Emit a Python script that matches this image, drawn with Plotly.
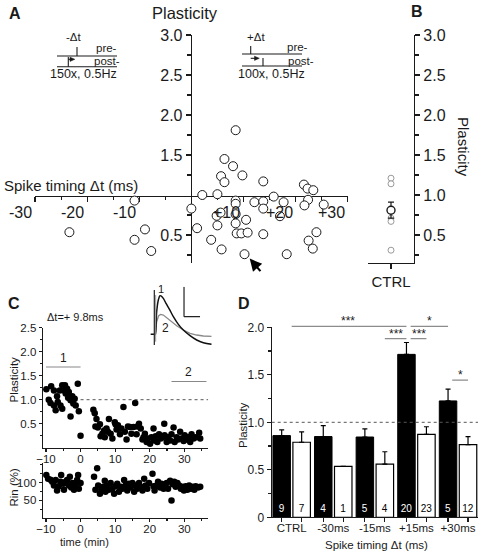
import plotly.graph_objects as go

W, H = 490, 554
FONT = "Liberation Sans, Arial, sans-serif"
INK = "#1a1a1a"


def PX(x):
    return x / W


def PY(y):
    return 1 - y / H


# ---------------- Panel A: plasticity vs spike timing ----------------
a_dt = [-23.4, -10.9, -10.9, -8.9, -7.7, 0.0, 1.1, 2.1, 3.8, 5.0, 4.85, 5.6, 5.0,
        6.35, 5.7, 6.35, 8.0, 8.5, 9.8, 8.5, 8.5, 8.5, 8.5, 10.5, 8.7, 9.6, 10.8,
        5.8, 10.2, 12.1, 13.8, 13.8, 13.8, 13.8, 15.8, 17.7, 17.0, 18.3, 21.6,
        22.3, 23.4, 22.4, 21.7, 25.4, 24.0, 22.5, 23.3]
a_plast = [0.535, 0.93, 0.44, 0.57, 0.30, 0.83, 0.585, 1.0, 0.44, 1.01, 0.74, 0.78, 0.62,
           1.45, 1.235, 1.16, 1.36, 1.81, 1.245, 0.93, 0.89, 0.76, 0.645, 0.69, 0.52, 0.52, 0.53,
           0.32, 0.26, 0.91, 1.17, 0.92, 0.83, 0.51, 0.98, 0.91, 0.735, 0.26, 1.13,
           1.08, 1.06, 0.94, 0.87, 0.88, 0.535, 0.43, 0.33]
a_xtick_vals = [-30, -20, -10, 10, 20, 30]
a_xtick_text = ["-30", "-20", "-10", "+10", "+20", "+30"]

# ---------------- Panel B: control ----------------
b_ctrl = [1.21, 1.14, 0.71, 0.67, 0.31]
b_mean = [0.81]
b_sem = [0.10]

# ---------------- Panel C: example experiment ----------------
c_t = [-9.9, -9.2, -8.5, -8.7, -7.7, -7.7, -7.2, -6.8, -6.6, -6.0, -5.8, -5.3, -5.3, -4.8,
       -4.5, -4.3, -3.9, -3.6, -3.4, -2.9, -2.9, -2.4, -2.1, -1.7, -1.4, -0.8, -0.5, 0.0,
       3.7, 4.1, 4.6, 4.3, 5.0, 5.6, 5.8, 6.3, 6.8, 7.0, 7.5, 8.2, 7.9, 8.7, 9.2, 9.9,
       10.1, 10.4, 10.8, 11.4, 11.8, 12.4, 12.8, 13.3, 13.7, 14.3, 14.7, 15.3, 15.8, 16.2,
       16.4, 16.9, 17.4, 17.9, 18.2, 18.6, 19.1, 19.5, 20.1, 20.5, 21.1, 21.3, 21.7, 22.2,
       22.7, 23.2, 23.7, 24.2, 24.3, 24.9, 25.3, 25.9, 26.3, 26.9, 27.2, 27.8, 28.2, 28.8,
       29.2, 29.8, 30.1, 30.7, 31.1, 31.7, 32.1, 32.7, 33.3, 34.3, 34.6]
c_plast = [1.22, 1.0, 1.28, 0.93, 1.19, 0.88, 0.78, 1.07, 0.95, 1.19, 0.88, 1.30, 0.81, 1.19,
           1.30, 1.13, 1.23, 1.04, 1.16, 0.65, 0.99, 1.07, 0.92, 1.02, 0.88, 1.33, 0.76, 0.25,
           0.79, 0.72, 0.60, 0.44, 0.42, 0.49, 0.24, 0.29, 0.36, 0.22, 0.40, 0.60, 0.33, 0.29,
           0.19, 0.53, 0.49, 0.38, 0.47, 0.28, 0.40, 0.85, 0.33, 0.17, 0.44, 0.43, 0.29, 0.43,
           0.93, 0.28, 0.44, 0.50, 0.40, 0.17, 0.22, 0.29, 0.12, 0.19, 0.08, 0.22, 0.40, 0.15,
           0.24, 0.12, 0.28, 0.19, 0.22, 0.50, 0.26, 0.12, 0.22, 0.15, 0.28, 0.42, 0.12, 0.22,
           0.17, 0.33, 0.19, 0.14, 0.26, 0.17, 0.22, 0.12, 0.28, 0.19, 0.22, 0.31, 0.19]
c_rin_t = [-9.9, -9.4, -8.7, -8.2, -7.7, -7.2, -6.8, -6.3, -5.8, -5.6, -5.0, -4.8, -4.3, -3.9,
           -3.4, -3.1, -2.7, -2.4, -1.9, -1.4, -1.0, -0.7, -0.5, 0.0, 3.9, 4.3, 4.8, 5.1, 5.6,
           6.0, 6.6, 7.0, 7.2, 7.7, 8.2, 8.7, 9.2, 9.7, 10.1, 10.6, 11.1, 11.6, 12.1, 12.6,
           13.0, 13.5, 14.0, 14.5, 15.0, 15.5, 15.9, 16.4, 16.9, 17.4, 17.9, 18.4, 18.8, 19.3,
           19.8, 20.8, 21.1, 21.4, 22.0, 22.4, 23.0, 23.4, 24.0, 24.3, 24.9, 25.3, 25.9, 26.3,
           26.6, 27.1, 27.5, 28.0, 28.5, 29.0, 29.5, 29.9, 30.4, 30.9, 31.4, 31.9, 32.4, 32.9,
           33.3, 34.0, 34.6]
c_rin = [121, 111, 108, 102, 92, 107, 78, 90, 102, 121, 97, 80, 102, 107,
         92, 116, 86, 99, 80, 95, 107, 121, 83, 99, 116, 80, 140, 92, 69,
         80, 88, 105, 74, 92, 80, 99, 83, 69, 90, 97, 74, 88, 83, 107,
         92, 78, 97, 86, 99, 74, 92, 83, 99, 88, 78, 111, 92, 83,
         99, 125, 90, 78, 92, 102, 86, 97, 83, 92, 99, 83, 105, 50,
         95, 102, 88, 99, 92, 83, 88, 78, 90, 80, 92, 83, 88, 80,
         90, 86, 88]

# EPSP example traces (inset, arbitrary units)
epsp1_x = [32, 44, 46, 50, 55, 60, 64, 70, 78, 88, 100, 115, 130, 150, 170, 190, 215]
epsp1_y = [-178, -178, -178, -110, -75, -62, -63, -70, -85, -102, -125, -148, -165, -182, -195, -203, -208]
epsp2_x = [46, 50, 56, 62, 70, 80, 95, 110, 130, 150, 170, 190, 215]
epsp2_y = [-178, -140, -122, -118, -120, -128, -140, -152, -165, -175, -180, -183, -184]

# ---------------- Panel D: summary bars ----------------
d_cats = ["CTRL", "-30ms", "-15ms", "+15ms", "+30ms"]
d_black = [0.86, 0.85, 0.845, 1.715, 1.225]
d_black_err = [0.06, 0.115, 0.085, 0.125, 0.125]
d_black_n = ["9", "4", "5", "20", "5"]
d_white = [0.79, 0.535, 0.56, 0.873, 0.764]
d_white_err = [0.11, None, 0.13, 0.08, 0.085]
d_white_n = ["7", "1", "4", "23", "12"]
# (stars, start group, start bar, end group, end bar, level, text x override)
d_sig = [("***", 0, "c", 3, "b", 2.01, 1.35),
         ("*", 3, "a", 4, "b", 2.01, None),
         ("***", 2, "w", 3, "b", 1.88, None),
         ("***", 3, "a", 3, "w", 1.88, None),
         ("*", 4, "a", 4, "w", 1.445, None)]

BARGAP = 0.04
BARGROUPGAP = 0.124
OFF = (1 - BARGAP) / 4  # centre offset of each bar in a group

D_YDOM = [PY(517.3), PY(327.3)]
D_YMAX = 2.0

fig = go.Figure()

# A
fig.add_trace(go.Scatter(x=a_dt, y=a_plast, mode="markers", xaxis="x", yaxis="y",
                         marker=dict(size=9, color="white", line=dict(color=INK, width=1)),
                         cliponaxis=False, showlegend=False))
# B
fig.add_trace(go.Scatter(x=["CTRL"] * len(b_ctrl), y=b_ctrl, mode="markers", xaxis="x2", yaxis="y2",
                         marker=dict(size=6, color="white", line=dict(color="#9a9a9a", width=1)),
                         cliponaxis=False, showlegend=False))
fig.add_trace(go.Scatter(x=["CTRL"], y=b_mean, mode="markers", xaxis="x2", yaxis="y2",
                         marker=dict(size=8, color="white", line=dict(color=INK, width=1.4)),
                         error_y=dict(type="data", array=b_sem, color=INK, thickness=1.2, width=3),
                         cliponaxis=False, showlegend=False))
# C
fig.add_trace(go.Scatter(x=c_t, y=c_plast, mode="markers", xaxis="x3", yaxis="y3",
                         marker=dict(size=6.5, color="black"), cliponaxis=False, showlegend=False))
fig.add_trace(go.Scatter(x=c_rin_t, y=c_rin, mode="markers", xaxis="x4", yaxis="y4",
                         marker=dict(size=6.5, color="black"), cliponaxis=False, showlegend=False))
fig.add_trace(go.Scatter(x=epsp2_x, y=epsp2_y, mode="lines", xaxis="x7", yaxis="y7",
                         line=dict(color="#8a8a8a", width=1.3), showlegend=False))
fig.add_trace(go.Scatter(x=epsp1_x, y=epsp1_y, mode="lines", xaxis="x7", yaxis="y7",
                         line=dict(color="#111", width=1.5, shape="spline"), showlegend=False))
# D
fig.add_trace(go.Bar(x=d_cats, y=d_black, xaxis="x5", yaxis="y5", name="black",
                     marker=dict(color="black", line=dict(color="black", width=1)),
                     error_y=dict(type="data", symmetric=False, array=d_black_err,
                                  arrayminus=[0] * 5, color="black", thickness=1.2, width=2.5),
                     text=d_black_n, textposition="inside", insidetextanchor="start",
                     textangle=0, constraintext="none",
                     insidetextfont=dict(color="white", size=10, family=FONT),
                     showlegend=False))
fig.add_trace(go.Bar(x=d_cats, y=d_white, xaxis="x5", yaxis="y5", name="white",
                     marker=dict(color="white", line=dict(color="black", width=1.2)),
                     error_y=dict(type="data", symmetric=False, array=d_white_err,
                                  arrayminus=[0] * 5, color="black", thickness=1.2, width=2.5),
                     text=d_white_n, textposition="inside", insidetextanchor="start",
                     textangle=0, constraintext="none",
                     insidetextfont=dict(color="black", size=10, family=FONT),
                     showlegend=False))
d_tick_pos = [i + s * OFF for i in range(len(d_cats)) for s in (-1, 1)]
fig.add_trace(go.Scatter(x=d_tick_pos, y=[None] * len(d_tick_pos), xaxis="x6", yaxis="y5",
                         mode="markers", showlegend=False, hoverinfo="skip"))

axis_common = dict(showgrid=False, zeroline=False, showline=True, linecolor=INK,
                   linewidth=1.1, ticks="outside", tickcolor=INK, tickwidth=1.1,
                   automargin=False, tickfont=dict(family=FONT, color=INK))

A_dom_x = [PX(35), PX(347.7)]
A_dom_y = [PY(263), PY(35)]
C_FONT = dict(family=FONT, size=11.5, color=INK)

layout = dict(
    width=W, height=H, autosize=False,
    margin=dict(l=0, r=0, t=0, b=0, pad=0, autoexpand=False),
    paper_bgcolor="white", plot_bgcolor="rgba(0,0,0,0)",
    font=dict(family=FONT, color=INK),
    barmode="group", bargap=BARGAP, bargroupgap=BARGROUPGAP,
    showlegend=False,
    xaxis=dict(axis_common, domain=A_dom_x, range=[-30, 30], anchor="free", position=PY(195.5),
               tickvals=[-30, -20, -10, 0, 10, 20, 30], ticklen=5, showticklabels=False,
               minor=dict(tickvals=[-25, -15, -5, 5, 15, 25], ticks="outside", ticklen=3,
                          tickcolor=INK),
               layer="below traces"),
    yaxis=dict(axis_common, domain=A_dom_y, range=[0.15, 3.0], anchor="free", position=PX(190.7),
               tickvals=[0.5, 1.5, 2.0, 2.5, 3.0], tickformat=".1f", ticklen=5,
               tickfont=dict(family=FONT, size=16, color=INK),
               minor=dict(tickvals=[0.25, 0.75, 1.25, 1.75, 2.25, 2.75], ticks="outside", ticklen=4,
                          tickcolor=INK),
               layer="below traces"),
    xaxis2=dict(axis_common, domain=[PX(368), PX(414)], type="category", range=[-0.5, 0.5],
                anchor="y2", ticklen=5, tickfont=dict(family=FONT, size=15, color=INK)),
    yaxis2=dict(axis_common, domain=A_dom_y, range=[0.15, 3.0], anchor="x2", side="right",
                tickvals=[0.5, 1.0, 1.5, 2.0, 2.5, 3.0], tickformat=".1f", ticklen=5,
                tickfont=dict(family=FONT, size=16, color=INK),
                minor=dict(tickvals=[0.25, 0.75, 1.25, 1.75, 2.25, 2.75], ticks="outside", ticklen=4,
                           tickcolor=INK)),
    xaxis3=dict(axis_common, domain=[PX(42.7), PX(208.3)], range=[-10.95, 36.94], anchor="y3",
                tickvals=[-10, 0, 10, 20, 30], ticklen=3, tickfont=C_FONT, ticklabelstandoff=-3,
                minor=dict(tickvals=[-5, 5, 15, 25, 35], ticks="outside", ticklen=2, tickcolor=INK)),
    yaxis3=dict(axis_common, domain=[PY(447.7), PY(327.7)], range=[0, 2.5], anchor="x3",
                tickvals=[0.5, 1.0, 1.5, 2.0, 2.5], tickformat=".1f", ticklen=3,
                tickfont=C_FONT,
                minor=dict(tickvals=[0.25, 0.75, 1.25, 1.75, 2.25], ticks="outside", ticklen=2,
                           tickcolor=INK)),
    xaxis4=dict(axis_common, domain=[PX(42.7), PX(208.3)], range=[-10.95, 36.94], anchor="y4",
                tickvals=[-10, 0, 10, 20, 30], ticklen=3, tickfont=C_FONT, ticklabelstandoff=-3,
                minor=dict(tickvals=[-5, 5, 15, 25, 35], ticks="outside", ticklen=2, tickcolor=INK)),
    yaxis4=dict(axis_common, domain=[PY(518.3), PY(463.3)], range=[0, 154], anchor="x4",
                tickvals=[50, 100], ticklen=3, tickfont=C_FONT,
                minor=dict(tickvals=[25, 75, 125, 150], ticks="outside", ticklen=2, tickcolor=INK)),
    xaxis5=dict(axis_common, domain=[PX(271.7), PX(478)], type="category", range=[-0.48, 4.48],
                anchor="y5", ticks="", tickfont=dict(family=FONT, size=11.5, color=INK)),
    xaxis6=dict(domain=[PX(271.7), PX(478)], range=[-0.48, 4.48], anchor="y5", overlaying="x5",
                side="bottom", showgrid=False, zeroline=False, showline=False, automargin=False,
                tickvals=d_tick_pos, ticks="outside", ticklen=4, tickcolor=INK, tickwidth=1.1,
                showticklabels=False),
    yaxis5=dict(axis_common, domain=D_YDOM, range=[0, D_YMAX], anchor="x5",
                tickvals=[0, 0.5, 1.0, 1.5, 2.0], ticktext=["0", "0.5", "1.0", "1.5", "2.0"],
                ticklen=4, tickfont=dict(family=FONT, size=12, color=INK),
                minor=dict(tickvals=[0.25, 0.75, 1.25, 1.75], ticks="outside", ticklen=3, tickcolor=INK)),
    xaxis7=dict(domain=[PX(150), PX(211.7)], range=[30, 215], anchor="y7", visible=False,
                automargin=False),
    yaxis7=dict(domain=[PY(345), PY(286.7)], range=[-210, -35], anchor="x7", visible=False,
                automargin=False),
)
fig.update_layout(**layout)

shapes = []
annots = []


def line_px(x0, y0, x1, y1, color=INK, width=1.1):
    shapes.append(dict(type="line", xref="paper", yref="paper", x0=PX(x0), y0=PY(y0),
                       x1=PX(x1), y1=PY(y1), line=dict(color=color, width=width)))


def tri_px(pts, color=INK):
    path = "M " + " L ".join(f"{PX(x)},{PY(y)}" for x, y in pts) + " Z"
    shapes.append(dict(type="path", xref="paper", yref="paper", path=path,
                       fillcolor=color, line=dict(color=color, width=0.5)))


def text_px(t, x, y, size, xanchor="center", yanchor="middle", angle=0, bold=False, color=INK):
    if bold:
        t = f"<b>{t}</b>"
    annots.append(dict(text=t, xref="paper", yref="paper", x=PX(x), y=PY(y), showarrow=False,
                       xanchor=xanchor, yanchor=yanchor, textangle=angle,
                       font=dict(family=FONT, size=size, color=color)))


# Panel letters and titles
text_px("A", 15, 13, 16, bold=True)
text_px("B", 417, 12, 16, bold=True)
text_px("C", 14, 303, 16, bold=True)
text_px("D", 244, 303, 16, bold=True)
text_px("Plasticity", 185, 13, 16.5)
text_px("Spike timing Δt (ms)", 2, 185, 15, xanchor="left")
text_px("Plasticity", 464, 147, 15, angle=90)

# Panel A x tick labels (right-aligned to the ticks)
for v, t in zip(a_xtick_vals, a_xtick_text):
    annots.append(dict(text=t, xref="x", yref="y", x=v, y=1.0, xanchor="right", yanchor="top",
                       xshift=-1, yshift=-7, showarrow=False,
                       font=dict(family=FONT, size=16, color=INK)))

# Arrow pointing to the example cell
annots.append(dict(text="", xref="x", yref="y", x=11.2, y=0.205, ax=12, ay=14, showarrow=True,
                   arrowhead=2, arrowsize=1.1, arrowwidth=2.2, arrowcolor="black"))

# Panel A schematics: -dt
line_px(57, 56, 117, 56)
line_px(77, 47, 77, 56)
line_px(57, 66.7, 117, 66.7)
line_px(68.3, 57, 68.3, 66.7)
line_px(68.3, 59.3, 71, 59.3)
tri_px([(70, 57.2), (70, 61.4), (74.8, 59.3)])
text_px("-Δt", 74, 37, 11.5)
text_px("pre-", 106, 48, 11.5)
text_px("post-", 107, 61, 11.5)
text_px("150x, 0.5Hz", 83.5, 73.5, 12.5)
# +dt
line_px(242, 54, 302, 54)
line_px(250.7, 46, 250.7, 54)
line_px(242, 66, 302, 66)
line_px(263, 58, 263, 66)
line_px(250.7, 58.3, 255, 58.3)
tri_px([(254.5, 56.2), (254.5, 60.4), (259.3, 58.3)])
text_px("+Δt", 256, 37, 11.5)
text_px("pre-", 297, 47, 11.5)
text_px("post-", 300.5, 61, 11.5)
text_px("100x, 0.5Hz", 271, 74, 12.5)

# Panel C decorations
text_px("Δt=+ 9.8ms", 45, 317, 11, xanchor="left")
text_px("Plasticity", 13.5, 380, 11.5, angle=-90)
text_px("Rin (%)", 13.5, 487, 11.5, angle=-90)
text_px("time (min)", 84, 541.5, 11)
shapes.append(dict(type="line", xref="x3", yref="y3", x0=0, x1=36.9, y0=1.0, y1=1.0,
                   line=dict(color="#555", width=1, dash="dot")))
shapes.append(dict(type="line", xref="x3", yref="y3", x0=-10, x1=0, y0=1.68, y1=1.68,
                   line=dict(color="#888", width=1.1)))
shapes.append(dict(type="line", xref="x3", yref="y3", x0=26.3, x1=36.4, y0=1.38, y1=1.38,
                   line=dict(color="#888", width=1.1)))
annots.append(dict(text="1", xref="x3", yref="y3", x=-5, y=1.68, yanchor="bottom", yshift=0,
                   showarrow=False, font=dict(family=FONT, size=12, color=INK)))
annots.append(dict(text="2", xref="x3", yref="y3", x=31.3, y=1.38, yanchor="bottom", yshift=0,
                   showarrow=False, font=dict(family=FONT, size=12, color=INK)))
# inset: stimulus artefact and scale bar
shapes.append(dict(type="line", xref="x7", yref="y7", x0=43, x1=43, y0=-45, y1=-210,
                   line=dict(color="#333", width=1.3)))
shapes.append(dict(type="line", xref="x7", yref="y7", x0=47, x1=47, y0=-60, y1=-200,
                   line=dict(color="#999", width=1)))
shapes.append(dict(type="line", xref="x7", yref="y7", x0=132, x1=132, y0=-35, y1=-125,
                   line=dict(color="#222", width=1.2)))
shapes.append(dict(type="line", xref="x7", yref="y7", x0=132, x1=180, y0=-125, y1=-125,
                   line=dict(color="#222", width=1.2)))
annots.append(dict(text="1", xref="x7", yref="y7", x=62, y=-42, showarrow=False,
                   font=dict(family=FONT, size=11, color=INK)))
annots.append(dict(text="2", xref="x7", yref="y7", x=75, y=-158, showarrow=False,
                   font=dict(family=FONT, size=12, color=INK)))

# Panel D decorations
text_px("Plasticity", 243, 425, 11.5, angle=-90)
text_px("Spike timing Δt (ms)", 376, 545, 11.5)
shapes.append(dict(type="line", xref="x5 domain", yref="y5", x0=0, x1=1, y0=1.0, y1=1.0,
                   line=dict(color="#555", width=1, dash="dot")))


def d_paper_y(v):
    return D_YDOM[0] + v / D_YMAX * (D_YDOM[1] - D_YDOM[0])


def bar_x(group, which):
    if which == "b":
        return group - OFF
    if which == "w":
        return group + OFF
    if which == "a":  # just right of the black bar centre
        return group - OFF + 0.1
    return float(group)


for stars, g0, w0, g1, w1, yv, xt in d_sig:
    x0 = bar_x(g0, w0)
    x1 = bar_x(g1, w1)
    shapes.append(dict(type="line", xref="x6", yref="paper", x0=x0, x1=x1,
                       y0=d_paper_y(yv), y1=d_paper_y(yv),
                       line=dict(color="#8c8c8c", width=1.2)))
    annots.append(dict(text=stars, xref="x6", yref="paper", x=(xt if xt is not None else (x0 + x1) / 2),
                       y=d_paper_y(yv), yanchor="middle", yshift=5, showarrow=False,
                       font=dict(family=FONT, size=12, color=INK)))

fig.update_layout(shapes=shapes, annotations=annots)
fig.write_html("out.html", config={"displayModeBar": False, "staticPlot": True},
               post_script="document.body.style.margin='0';document.body.style.overflow='hidden';")
